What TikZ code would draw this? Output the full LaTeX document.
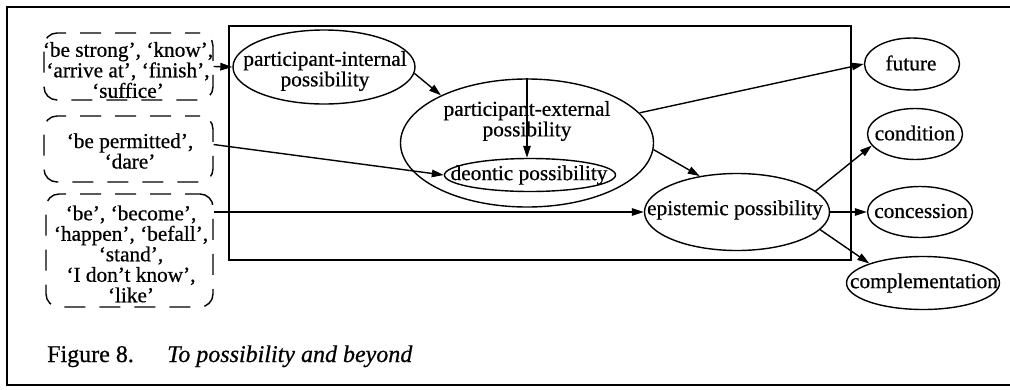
\documentclass[tikz,border=0pt]{standalone}
\usepackage{fontspec}
\setmainfont[FakeBold=0.6]{Liberation Serif}
\usetikzlibrary{shapes.geometric,arrows.meta}
\begin{document}
\begin{tikzpicture}[x=1pt,y=-1pt,
  lab/.style={inner sep=0pt, align=center, font=\fontsize{21.3}{20.5}\selectfont},
  captext/.style={inner sep=0pt, anchor=base west, font=\fontsize{24}{24}\selectfont},
  ell/.style 2 args={draw, ellipse, line width=1.4pt, inner sep=0pt, minimum width=#1pt, minimum height=#2pt},
  dbox/.style 2 args={draw, line width=1.4pt, rounded corners=13pt, dash pattern=on 21pt off 14pt, dash phase=6pt, inner sep=0pt, minimum width=#1pt, minimum height=#2pt},
  outerframe/.style={line width=1.5pt},
  arr/.style={line width=1.4pt, -{Triangle[length=12pt,width=7.5pt]}}]
\useasboundingbox (0,0) rectangle (1010,389);
% outer frame
\draw[outerframe] (1010,7) -- (7,7) -- (7,385) -- (1010,385);
% inner rectangle
\node[draw, line width=1.4pt, inner sep=0pt, minimum width=622pt, minimum height=234pt] (inner) at (540,143) {};
% dashed boxes
\node[dbox={169}{67}] (b1) at (128.5,66.5) {};
\node[lab] (t1) at (128,70) {‘be strong’, ‘know’,\\‘arrive at’, ‘finish’,\\‘suffice’};
\node[dbox={169}{66}] (b2) at (128.5,149) {};
\node[lab] (t2) at (130,151) {‘be permitted’,\\‘dare’};
\node[dbox={167}{113}] (b3) at (129.5,250.5) {};
\node[lab] (t3) at (131,254) {‘be’, ‘become’,\\‘happen’, ‘befall’,\\‘stand’,\\‘I don’t know’,\\‘like’};
% ellipses
\node[ell={182}{74}] (pi) at (324,67) {};
\node[lab] (pit) at (325,71) {participant-internal\\possibility};
\node[ell={253}{128}] (pe) at (527,143) {};
\node[lab] (pet) at (527,121) {participant-external\\possibility};
\node[ell={171}{33}] (deo) at (530,175) {};
\node[lab] (deot) at (529,175) {deontic possibility};
\node[ell={185}{77}] (epi) at (737,212) {};
\node[lab] (epit) at (735,210) {epistemic possibility};
\node[ell={95}{52}] (fut) at (912,64) {};
\node[lab] (futt) at (911,63) {future};
\node[ell={95}{51}] (cond) at (915,134) {};
\node[lab] (condt) at (915,133) {condition};
\node[ell={105}{51}] (conc) at (920,212) {};
\node[lab] (conct) at (921,211) {concession};
\node[ell={153}{53}] (comp) at (923,283) {};
\node[lab] (compt) at (924,283) {complementation};
% connectors
\draw[arr] (b1.east) -- (pi.west);
\draw[arr] (pi.-4) -- (pe.151);
\draw[arr] (pe.north) -- (pe.north |- deo.north);
\draw[arr] (b2.3) -- (deo.west);
\draw[arr] (pe.15) -- (fut.west);
\draw[arr] (pe.-3) -- (epi.136);
\draw[arr] (b3.east |- epi.west) -- (epi.west);
\draw[arr] (epi.15) -- (cond.195);
\draw[arr] (epi.east) -- (conc.west);
\draw[arr] (epi.-12) -- (comp.160);
% caption
\node[captext] (c1) at (47,362) {Figure 8.};
\node[captext] (c2) at (167,362) {\itshape To possibility and beyond};
\end{tikzpicture}
\end{document}
